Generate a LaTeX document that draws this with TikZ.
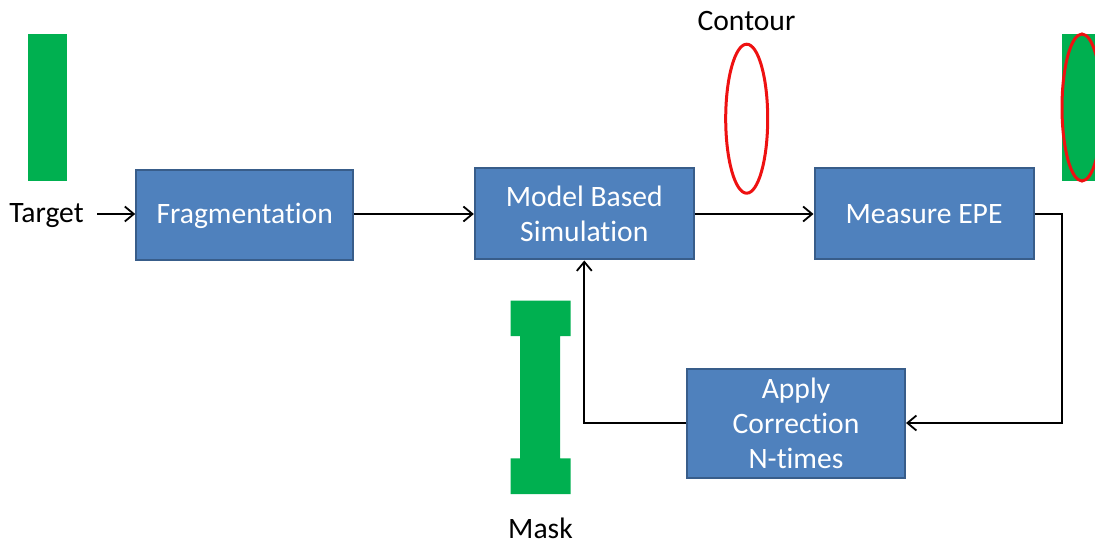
\documentclass[tikz,border=0pt]{standalone}
\usepackage{fontspec}
\setmainfont{Carlito}[Ligatures={NoCommon}]
\usetikzlibrary{arrows.meta,shapes.geometric}
\definecolor{blockfill}{HTML}{4F81BD}
\definecolor{blockline}{HTML}{385D8A}
\definecolor{shapegreen}{HTML}{00B050}
\definecolor{contourred}{HTML}{EE1111}
\begin{document}
\begin{tikzpicture}[x=1pt,y=-1pt,
  block/.style={draw=blockline, line width=2pt, fill=blockfill, text=white,
    inner sep=0pt, align=center, font=\fontsize{29.6}{35}\selectfont},
  label/.style={font=\fontsize{29.6}{35}\selectfont, inner sep=0pt, anchor=base},
  flow/.style={line width=1.8pt, -{Straight Barb[length=9pt,width=15pt,line width=1.8pt]}},
  contour/.style={draw=contourred, line width=3pt}]
\useasboundingbox (0,0) rectangle (1095,545);

% process blocks
\node[block, minimum width=217pt, minimum height=90pt] (frag) at (244.7,215.5) {Fragmentation};
\node[block, minimum width=219pt, minimum height=91pt] (model) at (584.3,214) {Model Based\\Simulation};
\node[block, minimum width=219pt, minimum height=91pt] (epe) at (924,214) {Measure EPE};
\node[block, minimum width=218pt, minimum height=109pt] (apply) at (796,423) {Apply\\Correction\\N-times};

% target layout
\fill[shapegreen] (27.5,34) rectangle (66.7,181);
\node[label] (target) at (46.5,223) {Target};
\coordinate (tin) at (97,214);

% simulated contour
\node[label] (contourlbl) at (746.5,31) {Contour};
\node[contour, ellipse, minimum width=42pt, minimum height=149pt, inner sep=0pt] (cont) at (746.7,118.7) {};

% target overlaid with contour
\fill[shapegreen] (1062.3,34) rectangle (1100,181);
\draw[contour] (1082,107.5) ellipse [x radius=20pt, y radius=73.5pt];

% mask shape
\fill[shapegreen] (510.7,300.7) -- (570.7,300.7) -- (570.7,336) -- (560,336)
  -- (560,458.3) -- (570.7,458.3) -- (570.7,494) -- (510.7,494) -- (510.7,458.3)
  -- (520,458.3) -- (520,336) -- (510.7,336) -- cycle;
\node[label] (mask) at (540.5,538.5) {Mask};

% connectors
\draw[flow] (tin) -- (frag.west |- tin);
\draw[flow] (frag.east |- model.west) -- (model.west);
\draw[flow] (model.east) -- (epe.west);
\draw[flow] (epe.east) -- (1062.3,214) |- (apply.east);
\draw[flow] (apply.west) -| (model.south);
\end{tikzpicture}
\end{document}
